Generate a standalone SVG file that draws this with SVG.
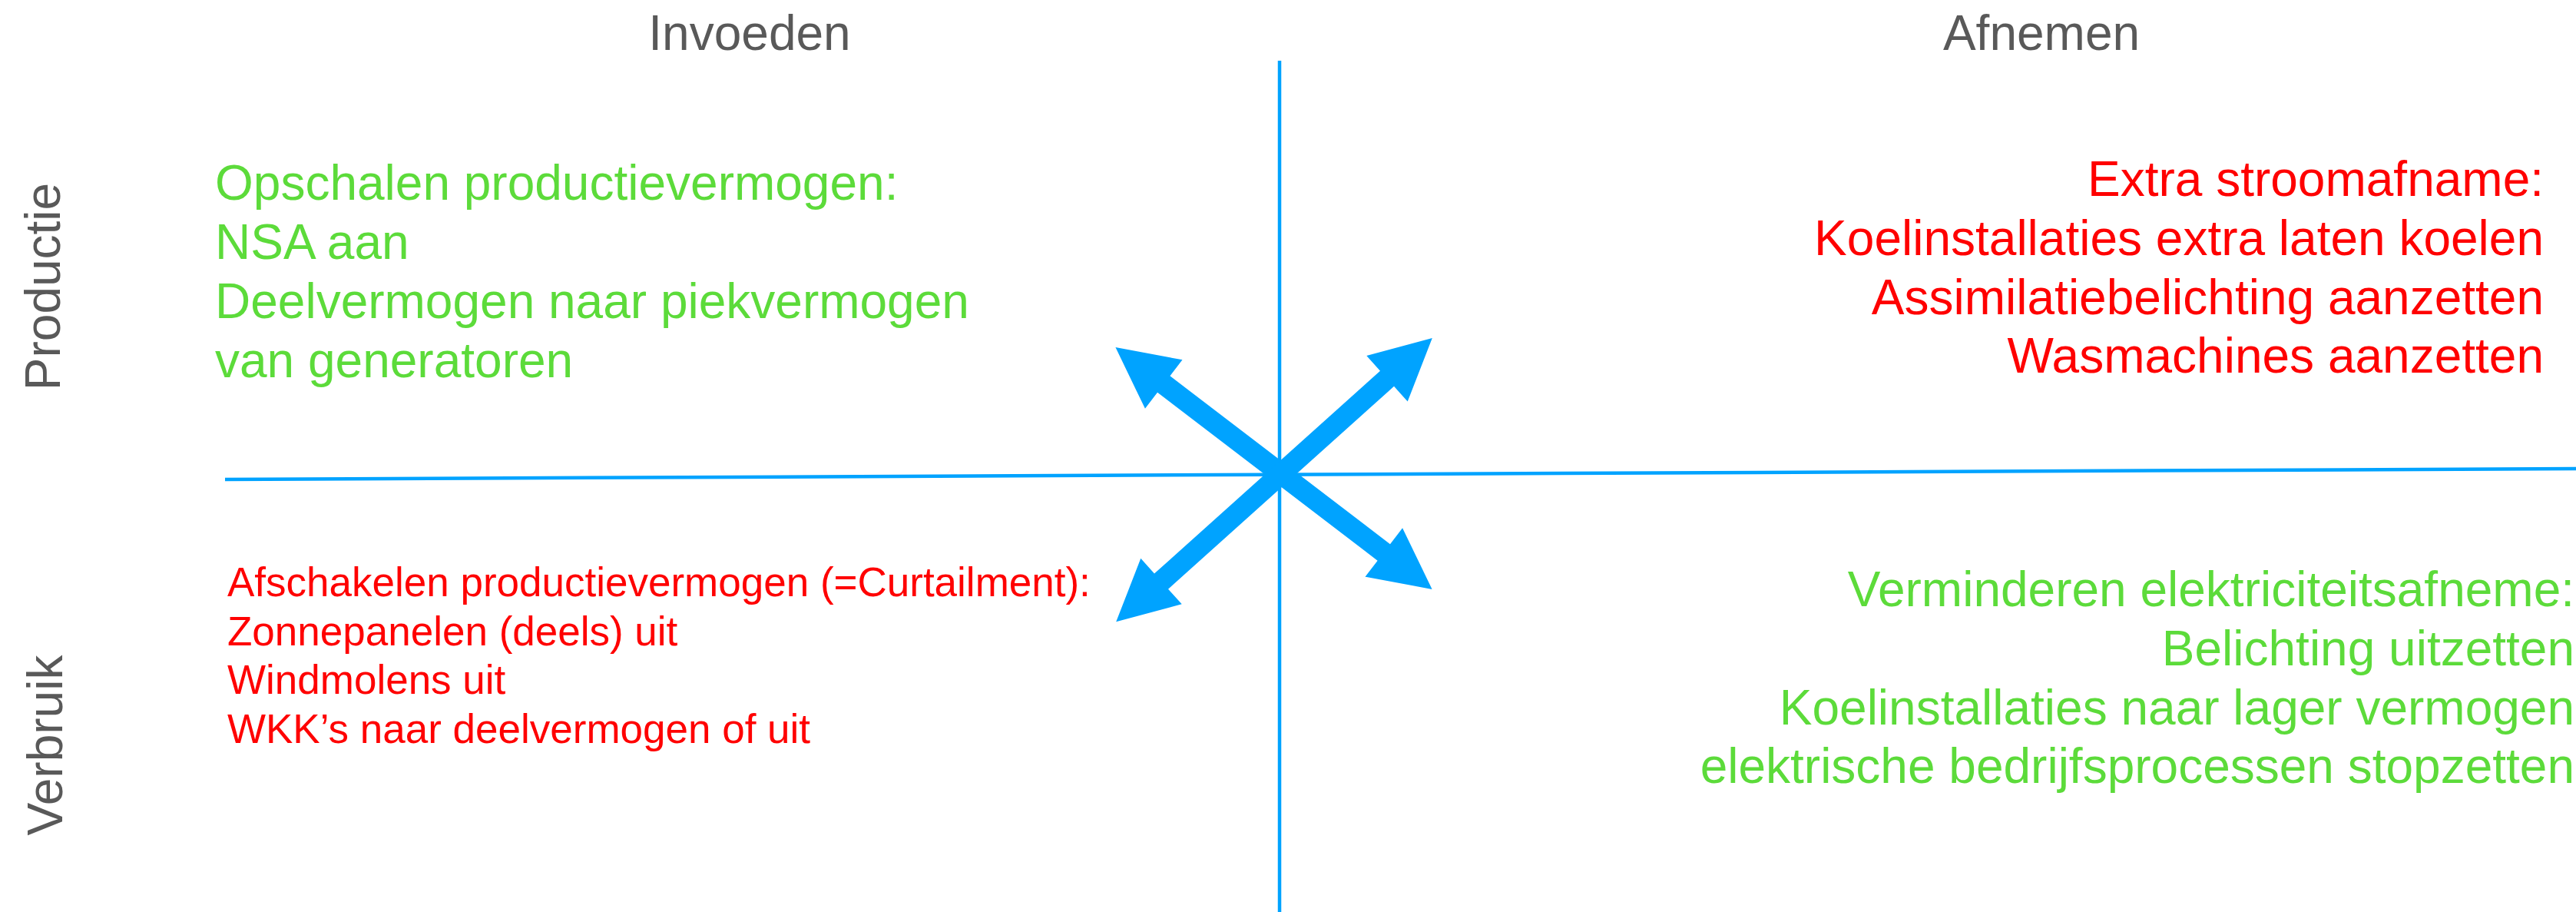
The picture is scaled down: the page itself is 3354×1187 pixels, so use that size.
<svg xmlns="http://www.w3.org/2000/svg" width="3354" height="1187" viewBox="0 0 3354 1187">
<style>
text{font-family:"Liberation Sans",Arial,sans-serif;}
.hdr{font-size:64px;fill:#595959;}
.g{font-size:64px;fill:#5cdb3a;}
.r{font-size:64px;fill:#ff0000;}
.rs{font-size:53px;fill:#ff0000;}
.axis{stroke:#00a3ff;stroke-width:4.5;fill:none;}
.arr{fill:#00a3ff;}
</style>
<rect width="3354" height="1187" fill="#ffffff"/>
<g id="headers">
<text class="hdr" x="976" y="65" text-anchor="middle">Invoeden</text>
<text class="hdr" x="2658" y="65" text-anchor="middle">Afnemen</text>
<text class="hdr" transform="translate(78,373) rotate(-90)" text-anchor="middle">Productie</text>
<text class="hdr" transform="translate(81,970) rotate(-90)" text-anchor="middle">Verbruik</text>
</g>
<g id="connectors">
<line class="axis" x1="1666" y1="79" x2="1666" y2="1187"/>
<line class="axis" x1="293" y1="624" x2="3354" y2="610"/>
<path class="arr" transform="translate(1658.5,609.5) rotate(37.37)" d="M-259.3 0 L-180.3 -40 L-180.3 -13.5 L180.3 -13.5 L180.3 -40 L259.3 0 L180.3 40 L180.3 13.5 L-180.3 13.5 L-180.3 40 Z"/>
<path class="arr" transform="translate(1659,624.7) rotate(-41.9)" d="M-276.5 0 L-197.5 -40 L-197.5 -13.5 L197.5 -13.5 L197.5 -40 L276.5 0 L197.5 40 L197.5 13.5 L-197.5 13.5 L-197.5 40 Z"/>
</g>
<g id="node-top-left">
<text class="g" x="280" y="260">Opschalen productievermogen:</text>
<text class="g" x="280" y="337">NSA aan</text>
<text class="g" x="280" y="414">Deelvermogen naar piekvermogen</text>
<text class="g" x="280" y="491">van generatoren</text>
</g>
<g id="node-top-right">
<text class="r" x="3312" y="255" text-anchor="end">Extra stroomafname:</text>
<text class="r" x="3312" y="332" text-anchor="end">Koelinstallaties extra laten koelen</text>
<text class="r" x="3312" y="408.5" text-anchor="end">Assimilatiebelichting aanzetten</text>
<text class="r" x="3312" y="485" text-anchor="end">Wasmachines aanzetten</text>
</g>
<g id="node-bottom-left">
<text class="rs" x="296" y="776">Afschakelen productievermogen (=Curtailment):</text>
<text class="rs" x="296" y="839.5">Zonnepanelen (deels) uit</text>
<text class="rs" x="296" y="903">Windmolens uit</text>
<text class="rs" x="296" y="967">WKK’s naar deelvermogen of uit</text>
</g>
<g id="node-bottom-right">
<text class="g" x="3352" y="789" text-anchor="end">Verminderen elektriciteitsafneme:</text>
<text class="g" x="3352" y="866" text-anchor="end">Belichting uitzetten</text>
<text class="g" x="3352" y="943" text-anchor="end">Koelinstallaties naar lager vermogen</text>
<text class="g" x="3352" y="1019" text-anchor="end">elektrische bedrijfsprocessen stopzetten</text>
</g>
</svg>
